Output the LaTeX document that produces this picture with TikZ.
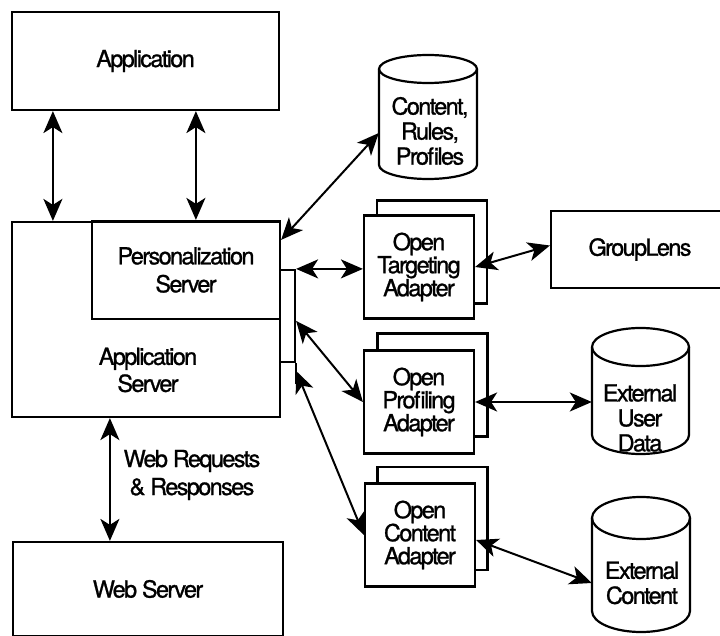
\documentclass[tikz,border=0pt]{standalone}
\usepackage{fontspec}
\setmainfont{TeX Gyre Heros}[LetterSpace=-7, FakeBold=1]
\usetikzlibrary{arrows.meta}

% database drum: name, centre x, top y, bottom y, x radius, y radius
\newcommand\drum[6]{%
  \node[rectangle, inner sep=0pt, minimum width=2*#5, minimum height=#4-#3]
    (#1) at (#2, {(#3+#4)/2}) {};
  \draw[box] (#2, #3+#6) ellipse[x radius=#5, y radius=#6];
  \draw[box] (#2-#5, #3+#6) -- (#2-#5, #4-#6)
    arc[start angle=180, end angle=0, x radius=#5, y radius=#6]
    -- (#2+#5, #3+#6);
}

\tikzset{
  box/.style={draw, line width=2.2pt},
  plain/.style={rectangle, inner sep=0pt},
  lbl/.style={align=center, inner sep=0pt, font=\fontsize{23.5}{#1}\selectfont},
  lbl/.default=27,
  backbox/.style={box, plain, minimum width=110, minimum height=103},
  frontbox/.style={box, plain, fill=white, minimum width=110, minimum height=103, lbl=23},
  link/.style={line width=2pt, <->,
    >={Stealth[length=22pt, width=19pt, inset=6pt]}},
}

\begin{document}
\begin{tikzpicture}[x=1pt, y=-1pt]
\useasboundingbox (0,0) rectangle (720,636);
\clip (0,0) rectangle (720,636);
\fill[white] (0,0) rectangle (720,636);

% left column
\node[box, plain, minimum width=267, minimum height=98, lbl] (app) at (145.5,61) {Application};
\node[box, plain, minimum width=268, minimum height=195] (as) at (146,319.5) {};
\node[box, plain, minimum width=188, minimum height=98, lbl=28] (ps) at (186,270) {Personalization\\Server};
\node[lbl] (asT) at (148,370) {Application\\Server};
\node[box, plain, minimum width=15, minimum height=92] (br) at (287.5,316) {};
\draw[box] (br.south east) -- ++(0,21) coordinate (brend);
\node[box, plain, minimum width=270, minimum height=94, lbl] (ws) at (148,589) {Web Server};
\node[lbl=28] (wrr) at (192,475) {Web Requests\\\& Responses};

% adapters
\node[backbox] (otaB) at (432,252) {};
\node[frontbox] (ota) at (419,267) {Open\\Targeting\\Adapter};
\node[backbox] (opaB) at (432.5,385) {};
\node[frontbox] (opa) at (419,402) {Open\\Profiling\\Adapter};
\node[backbox] (ocaB) at (432.5,518.5) {};
\node[frontbox] (oca) at (420,535) {Open\\Content\\Adapter};

% data stores and external system
\drum{crp}{428}{55}{179}{49}{14}
\node[lbl=25] (crpT) at (430,131) {Content,\\Rules,\\Profiles};
\drum{eud}{640.5}{328}{454}{48.5}{19}
\node[lbl=25] (eudT) at (640,418) {External\\User\\Data};
\drum{ec}{641}{497}{632}{49}{21}
\node[lbl=25] (ecT) at (642,583) {External\\Content};
\node[box, plain, minimum width=178, minimum height=77, lbl] (gl) at (640,249.5) {GroupLens};

% connectors
\draw[link] ([xshift=42]app.south west) -- ([xshift=42]as.north west);
\draw[link] ([xshift=185]app.south west) -- ([xshift=105]ps.north west);
\draw[link] ([yshift=-20]ps.north east) -- ([yshift=-16]crp.west);
\draw[link] (br.north east) -- (br.north east -| ota.west);
\draw[link] (ota.east) -- ([yshift=4]gl.west);
\draw[link] ([yshift=-52]br.north east) -- (opa.west);
\draw[link] (opa.east) -- (opa.east -| eud.west);
\draw[link] ([yshift=-102]br.north east) -- (oca.west);
\draw[link] ([yshift=-5]oca.east) -- ([yshift=-18.5]ec.west);
\draw[link] ([xshift=99]as.south west) -- ([xshift=98]ws.north west);
\end{tikzpicture}
\end{document}
